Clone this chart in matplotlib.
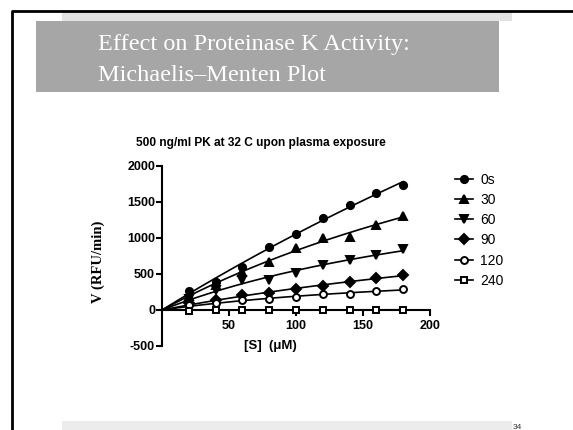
import numpy as np
import matplotlib
matplotlib.use('Agg')
import matplotlib.pyplot as plt
from matplotlib.patches import Rectangle

plt.rcParams['axes.unicode_minus'] = False

# substrate concentration (uM) and rates (RFU/min) per plasma exposure time
conc = [20, 40, 60, 80, 100, 120, 140, 160, 180]
labels = ['0s', '30', '60', '90', '120', '240']
v_0s = [265, 392, 603, 880, 1051, 1282, 1454, 1630, 1740]
v_30 = [195, 347, 533, 671, 866, 995, 1019, 1180, 1306]
v_60 = [150, 278, 417, 417, 519, 625, 695, 764, 843]
v_90 = [100, 139, 208, 231, 292, 338, 394, 440, 486]
v_120 = [70, 97, 140, 148, 185, 218, 222, 264, 292]
v_240 = [-10, -5, -5, -5, 0, 5, 5, 5, 5]
series = [v_0s, v_30, v_60, v_90, v_120, v_240]

markers = ['o', '^', 'v', 'D', 'o', 's']
filled = [True, True, True, True, False, False]
msizes = [5.2, 5.6, 5.6, 4.6, 5.0, 5.0]


def mm_fit(x, y):
    # least squares Michaelis-Menten fit: grid over Km, Vmax closed form
    x = np.asarray(x, float)
    y = np.asarray(y, float)
    best = None
    for km in np.logspace(0, 5, 2000):
        f = x / (km + x)
        vmax = np.sum(y * f) / np.sum(f * f)
        err = np.sum((y - vmax * f) ** 2)
        if best is None or err < best[0]:
            best = (err, vmax, km)
    return best[1], best[2]


fig = plt.figure(figsize=(5.73, 4.30), dpi=100)

# slide decoration (pixel coordinates converted to figure fraction)
W, H = 573.0, 430.0
def box(x0, y0, x1, y1, color):
    fig.patches.append(Rectangle((x0 / W, 1 - y1 / H), (x1 - x0) / W, (y1 - y0) / H,
                                 transform=fig.transFigure, color=color, lw=0, zorder=0))

box(62, 10, 512, 21, '#e3e3e3')
box(36, 21, 499, 92, '#a6a6a6')
box(62, 421, 512, 430, '#ececec')
fig.add_artist(plt.Line2D([12 / W, 12 / W, 1], [0, 1 - 11 / H, 1 - 11 / H],
                          transform=fig.transFigure, color='black', lw=2))
fig.text(98 / W, 1 - 50 / H, 'Effect on Proteinase K Activity:', color='white',
         family='Liberation Serif', fontsize=17.5, va='baseline')
fig.text(98 / W, 1 - 81 / H, 'Michaelis\u2013Menten Plot', color='white',
         family='Liberation Serif', fontsize=17.5, va='baseline')
fig.text(513 / W, 1 - 429 / H, '34', fontsize=6, family='Liberation Sans',
         color='#333333', va='baseline')

fig.text(261 / W, 1 - 146 / H, '500 ng/ml PK at 32 C upon plasma exposure', fontsize=8.6,
         fontweight='bold', family='Liberation Sans', ha='center', va='baseline')
fig.text(98 / W, 1 - 262 / H, 'V (RFU/min)', family='Liberation Serif', fontweight='bold',
         fontsize=10.5, rotation=90, ha='center', va='center')

ax = fig.add_axes([162 / W, 1 - 346 / H, (430 - 162) / W, (346 - 166) / H])
ax.set_facecolor('none')

xs = np.linspace(0, 180, 200)
for y, lab, m, fl, ms in zip(series, labels, markers, filled, msizes):
    vmax, km = mm_fit(conc, y)
    ax.plot(xs, vmax * xs / (km + xs), color='black', lw=1.2, zorder=2)
    ax.plot(conc, y, linestyle='none', marker=m, ms=ms,
            mfc='black' if fl else 'white', mec='black', mew=1.4, zorder=3)
    ax.plot([], [], color='black', lw=1.2, marker=m, ms=ms,
            mfc='black' if fl else 'white', mec='black', mew=1.4, label=lab)

ax.set_xlim(0, 200)
ax.set_ylim(-500, 2000)
ax.spines['top'].set_visible(False)
ax.spines['right'].set_visible(False)
ax.spines['bottom'].set_position(('data', 0))
for s in ['left', 'bottom']:
    ax.spines[s].set_linewidth(1.5)
ax.set_xticks([50, 100, 150, 200])
ax.set_yticks([-500, 0, 500, 1000, 1500, 2000])
ax.tick_params(direction='out', length=4, width=1.5, labelsize=9)
ax.tick_params(axis='y', pad=1)
ax.tick_params(axis='x', pad=3)
for t in ax.get_xticklabels() + ax.get_yticklabels():
    t.set_fontweight('bold')
    t.set_family('Liberation Sans')

ax.text(100 + (270 - 296) / 1.34, -500, '[S]  (\u03bcM)', family='Liberation Sans',
        fontweight='bold', fontsize=9.5, ha='center', va='center')

leg = ax.legend(loc='upper left', bbox_to_anchor=((449 - 162) / 268, 1 - (167 - 166) / 180),
                frameon=False, handlelength=1.3, handletextpad=0.55, labelspacing=0.45,
                prop={'family': 'Liberation Sans', 'size': 10}, borderaxespad=0)

fig.savefig('out.png', dpi=100)
